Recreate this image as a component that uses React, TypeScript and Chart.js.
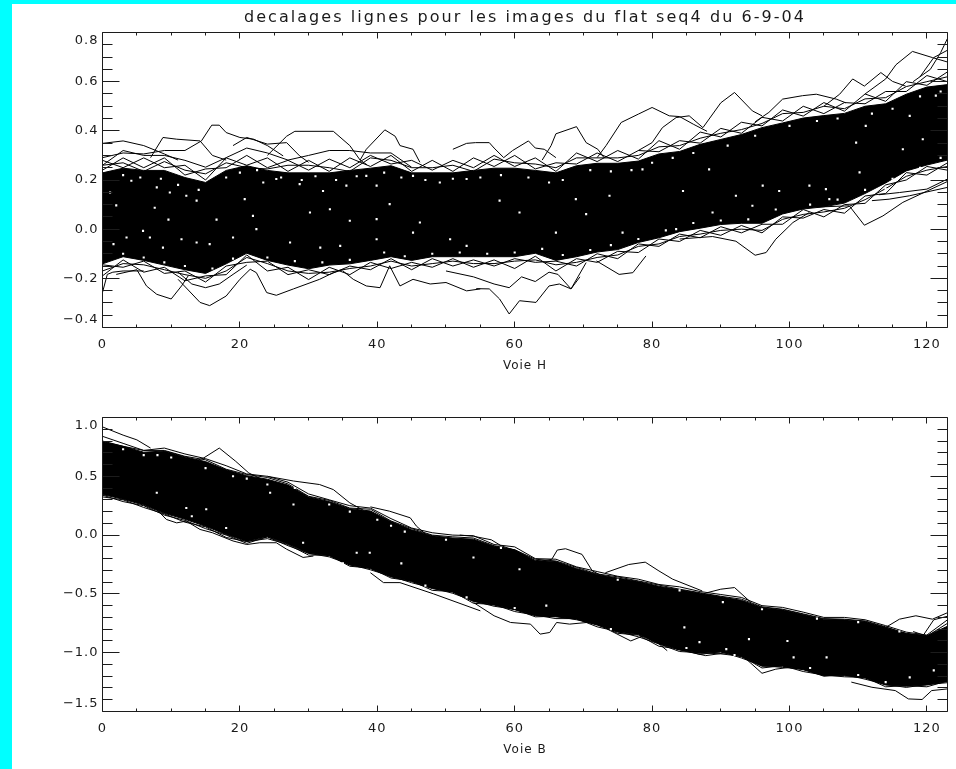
import React, { useEffect, useRef } from "react";
import { Chart, registerables } from "chart.js";

Chart.register(...registerables);

// ---- text
const titleText = "decalages lignes pour les images du flat seq4 du 6-9-04";
const xTitleTop = "Voie H";
const xTitleBottom = "Voie B";

// ---- axes
const xMajor = [0, 20, 40, 60, 80, 100, 120];
const xMinor = [5, 10, 15, 25, 30, 35, 45, 50, 55, 65, 70, 75, 85, 90, 95, 105, 110, 115];
const topYMajor = [-0.4, -0.2, 0, 0.2, 0.4, 0.6, 0.8];
const topYMinor = [-0.35, -0.3, -0.25, -0.15, -0.1, -0.05, 0.05, 0.1, 0.15, 0.25, 0.3, 0.35, 0.45, 0.5, 0.55, 0.65, 0.7, 0.75];
const botYMajor = [-1.5, -1, -0.5, 0, 0.5, 1];
const botYMinor = [-1.4, -1.3, -1.2, -1.1, -0.9, -0.8, -0.7, -0.6, -0.4, -0.3, -0.2, -0.1, 0.1, 0.2, 0.3, 0.4, 0.6, 0.7, 0.8, 0.9];

// ---- shared sampling of the channels for the band edges
const channels = [0, 3, 6, 9, 12, 15, 18, 21, 24, 27, 30, 33, 36, 39, 42, 45, 48, 51, 54, 57, 60, 63, 66, 69, 72, 75, 78, 81, 84, 87, 90, 93, 96, 99, 102, 105, 108, 111, 114, 117, 120, 123];

// ---- top panel (Voie H)
const topCoreUpper = [.229, .248, .239, .239, .21, .19, .239, .258, .239, .229, .229, .229, .239, .248, .258, .229, .229, .229, .239, .248, .248, .239, .229, .258, .268, .268, .277, .306, .316, .345, .365, .385, .413, .432, .452, .462, .471, .5, .51, .549, .578, .588];
const topCoreLower = [-.141, -.112, -.127, -.146, -.165, -.18, -.141, -.098, -.127, -.146, -.161, -.146, -.141, -.127, -.112, -.127, -.112, -.112, -.112, -.112, -.112, -.098, -.127, -.112, -.093, -.083, -.054, -.035, -.01, .004, .019, .024, .024, .062, .082, .091, .106, .145, .188, .237, .261, .281];
const topEdgeA = [.28, .25, .29, .25, .26, .20, .29, .26, .29, .235, .28, .235, .29, .255, .30, .235, .28, .235, .29, .255, .30, .245, .27, .265, .31, .275, .32, .315, .36, .35, .41, .39, .455, .44, .50, .47, .515, .51, .56, .56, .625, .60];
const topEdgeB = [.24, .29, .25, .29, .22, .245, .25, .30, .25, .28, .24, .285, .25, .30, .265, .28, .24, .28, .25, .30, .255, .29, .235, .31, .275, .32, .285, .36, .325, .395, .375, .435, .42, .485, .46, .515, .48, .55, .52, .60, .585, .64];
const topEdgeC = [.26, .27, .235, .275, .24, .225, .27, .25, .245, .26, .26, .25, .235, .29, .28, .25, .25, .26, .235, .285, .27, .265, .25, .29, .29, .29, .30, .335, .34, .37, .39, .405, .43, .47, .475, .50, .49, .53, .535, .58, .60, .62];
const topLowA = [-.19, -.125, -.175, -.155, -.21, -.19, -.185, -.105, -.17, -.155, -.205, -.155, -.185, -.135, -.16, -.135, -.155, -.12, -.155, -.125, -.16, -.11, -.17, -.12, -.135, -.09, -.095, -.04, -.05, -.005, -.025, .015, -.015, .05, .045, .08, .065, .135, .145, .23, .22, .27];
const topLowB = [-.145, -.155, -.13, -.18, -.17, -.215, -.15, -.135, -.13, -.185, -.165, -.185, -.15, -.165, -.12, -.165, -.12, -.15, -.125, -.15, -.12, -.135, -.13, -.15, -.10, -.12, -.06, -.07, -.02, -.035, .01, -.015, .02, .02, .08, .05, .10, .105, .18, .20, .255, .24];
const topLowC = [-.17, -.14, -.145, -.165, -.185, -.2, -.17, -.115, -.14, -.17, -.18, -.175, -.16, -.15, -.13, -.15, -.14, -.13, -.14, -.14, -.13, -.125, -.145, -.135, -.115, -.105, -.07, -.06, -.03, -.02, -.005, 0, -.005, .04, .06, .07, .085, .12, .165, .215, .24, .255];

const up1 = [[0, .349], [3, .359], [6, .34], [9, .306], [11, .281]];
const up2 = [[0, .291], [3, .31], [6, .306], [9, .32], [12, .32], [14.4, .359], [15.9, .423], [17, .423], [18, .393], [20, .373], [22, .366], [24, .34], [26.3, .298]];
const up3 = [[24, .3], [26.8, .378], [28, .398], [33.6, .398], [36, .34], [37.5, .281], [38.5, .262]];
const up4 = [[37.5, .281], [38.4, .325], [41.1, .404], [42.6, .378], [43.3, .34], [45.2, .325], [46.2, .272]];
const up5 = [[7, .291], [8.8, .373], [10.8, .366], [14.2, .359], [16, .30], [18, .281]];
const up6 = [[19, .34], [21, .373], [24, .346], [26.8, .352], [28.7, .298], [30, .272]];
const up7 = [[51, .325], [53, .349], [54.3, .352], [56.3, .352], [57, .33], [58.4, .291], [59.7, .32], [62, .359], [63, .33], [64.3, .325], [66, .291]];
const up8 = [[64, .281], [65.3, .34], [66, .388], [69, .417], [70.4, .352], [72.1, .325], [73, .291]];
const up9 = [[72, .291], [73.3, .34], [75.5, .434], [78, .468], [80, .495], [82.5, .461], [84, .458], [86, .427], [88, .398]];
const up10 = [[78, .32], [80, .352], [81.5, .413], [83.5, .454], [85.4, .461], [87.4, .413], [90, .514], [92, .556], [94.6, .481], [96, .461]];
const up11 = [[95, .437], [97, .475], [99, .529], [101.9, .543], [103.9, .549], [106.8, .529], [108.2, .514]];
const up12 = [[105, .50], [107.3, .549], [109.2, .611], [110.9, .582], [113.3, .637], [115, .601], [116.9, .582]];
const up13 = [[111, .55], [114, .611], [115.5, .669], [117.9, .723], [120.8, .698], [123, .68]];
const up14 = [[118, .60], [120.5, .65], [122, .718], [123, .776]];
const up15 = [[119, .62], [121, .698], [123, .728]];
const up16 = [[0, .26], [3, .32], [6, .30], [9, .30], [12, .28], [15, .252], [18, .291], [21, .33], [24, .31], [27, .281], [30, .30], [33, .32], [36, .32], [39, .31], [42, .31], [45, .252]];

const lo0 = [[0, -.257], [.7, -.184], [1.5, -.175], [3, -.17], [6, -.17]];
const lo1 = [[2, -.184], [5, -.165], [6.4, -.231], [7.9, -.265], [10, -.284], [11.5, -.231], [12.5, -.189]];
const lo2 = [[11, -.204], [14.2, -.298], [15.6, -.311], [18, -.272], [20, -.204], [21.5, -.163], [22.4, -.177], [23.9, -.258], [25.3, -.269], [27.8, -.243], [31.6, -.204], [33.6, -.177], [35, -.165]];
const lo3 = [[11, -.175], [13, -.223], [15, -.238], [17, -.223], [19, -.184], [21, -.146]];
const lo4 = [[35, -.17], [36.5, -.204], [38.4, -.231], [40.4, -.238], [41.8, -.149], [43.3, -.231], [45.2, -.204], [47.7, -.223], [50, -.217], [53, -.251], [55, -.243]];
const lo5 = [[54.4, -.242], [56.3, -.243], [57.8, -.284], [59.2, -.345], [60.7, -.291], [63.1, -.298], [65, -.231], [66.5, -.223], [68.2, -.243], [70.4, -.136]];
const lo6 = [[50, -.17], [54, -.194], [57, -.223], [59.2, -.238], [61, -.194], [63, -.213], [65, -.175], [66.3, -.184], [68.2, -.243], [69.5, -.194]];
const lo7 = [[71.9, -.129], [75.2, -.184], [77.2, -.177], [79.1, -.109]];
const lo8 = [[84, -.04], [88.8, -.03], [92.2, -.049], [95, -.106], [96.6, -.095], [98, -.041], [100.5, .027], [102.9, .068]];
const lo9 = [[104, .09], [108.7, .095], [110.9, .016], [113.6, .054], [116.5, .109], [123, .194]];
const lo10 = [[112, .116], [114.5, .122], [117.5, .136], [123, .17]];
const lo11 = [[113, .14], [116, .149], [120, .163], [123, .204]];

const topGaps = [[2, .097], [7.6, .087], [9.6, .039], [13.7, .116], [16.6, .039], [20.7, .122], [21.9, .054], [30.2, .068], [32.1, .155], [33.1, .081], [36, .034], [39.9, .041], [41.8, .102], [46.2, .027],
  [1.1, .149], [4.2, .197], [7.9, .17], [9.8, .149], [12.2, .136], [23.4, .19], [25.3, .204], [28.7, .183], [35.5, .177], [38.4, .217], [39.9, .177], [45.2, .217], [49.1, .19], [53, .204],
  [1.6, -.061], [3.5, -.034], [5.9, -.007], [6.9, -.034], [8.8, -.075], [11.5, -.041], [13.7, -.054], [15.6, -.061], [19, -.034], [22.4, 0], [27.3, -.054], [31.7, -.075], [34.6, -.068], [39.9, -.041], [45.2, -.014], [50.6, -.041], [53, -.068],
  [57.8, .116], [60.7, .068], [68.9, .122], [70.4, .061], [73.8, .136], [78.6, .243], [84.5, .155], [88.3, .243], [94.6, .095], [96.1, .177], [98.5, .155], [102.9, .177], [105.8, .122], [109.7, .352], [111.1, .42], [116.5, .325], [119.4, .366], [121.3, .543], [117.5, .461],
  [66, -.014], [75.7, -.014], [83.5, 0], [88.8, .068], [92.2, .136], [105.3, .163], [110.2, .231], [114, .163]];
const topGapsUpper = [[3, .22], [5.5, .21], [8.5, .205], [11, .18], [14, .16], [18, .21], [20, .23], [22.5, .24], [26, .21], [29, .20], [31, .215], [34, .2], [37, .215], [41, .23], [43.5, .21], [47, .2], [51, .205], [55, .21], [58, .22], [62, .21], [65, .19], [67, .2], [71, .24], [74, .235], [77, .24], [80, .27], [83, .29], [86, .31], [91, .34], [95, .38], [100, .42], [104, .44], [107, .45], [112, .47], [115, .49], [119, .54], [122, .56]];
const topGapsLower = [[3, -.10], [6, -.115], [9, -.135], [12, -.15], [16, -.16], [19, -.12], [24, -.115], [28, -.13], [32, -.135], [36, -.125], [41, -.095], [44, -.11], [48, -.1], [52, -.095], [56, -.1], [60, -.095], [64, -.08], [67, -.105], [71, -.085], [74, -.065], [78, -.04], [82, -.005], [86, .025], [90, .035], [94, .04], [98, .08], [103, .10], [107, .12], [111, .16], [115, .205], [119, .25], [122, .29]];

// ---- bottom panel (Voie B)
const botCoreUpper = [.795, .755, .705, .715, .665, .625, .555, .505, .475, .425, .325, .285, .225, .205, .115, .045, -.005, -.025, -.035, -.095, -.125, -.215, -.225, -.285, -.335, -.365, -.395, -.435, -.465, -.495, -.525, -.555, -.615, -.635, -.675, -.715, -.72, -.735, -.785, -.835, -.855, -.775];
const botCoreLower = [.345, .305, .255, .185, .135, .075, .005, -.055, -.015, -.075, -.155, -.175, -.255, -.285, -.355, -.395, -.455, -.485, -.565, -.595, -.635, -.685, -.695, -.715, -.765, -.825, -.845, -.925, -.975, -1.005, -.995, -1.035, -1.115, -1.115, -1.145, -1.195, -1.195, -1.215, -1.275, -1.285, -1.275, -1.245];
const botUpA = [.84, .78, .72, .74, .69, .65, .59, .52, .50, .45, .35, .30, .25, .23, .14, .06, .02, 0, -.005, -.08, -.10, -.20, -.205, -.27, -.31, -.35, -.375, -.42, -.44, -.48, -.505, -.53, -.60, -.615, -.655, -.70, -.70, -.72, -.77, -.825, -.85, -.72];
const botUpB = [.80, .755, .72, .72, .67, .64, .56, .515, .49, .435, .33, .295, .23, .22, .12, .055, 0, -.015, -.025, -.09, -.125, -.205, -.22, -.275, -.33, -.355, -.39, -.425, -.46, -.49, -.52, -.545, -.61, -.63, -.67, -.71, -.715, -.73, -.78, -.84, -.86, -.75];
const botLowA = [.325, .30, .235, .18, .11, .07, -.02, -.055, -.03, -.08, -.17, -.17, -.265, -.28, -.365, -.39, -.47, -.48, -.58, -.59, -.65, -.68, -.71, -.71, -.78, -.82, -.865, -.925, -.99, -1.0, -1.01, -1.03, -1.13, -1.11, -1.16, -1.19, -1.205, -1.21, -1.29, -1.28, -1.29, -1.24];
const botLowB = [.34, .285, .25, .17, .125, .055, 0, -.07, -.015, -.09, -.155, -.185, -.25, -.295, -.35, -.405, -.45, -.495, -.56, -.605, -.63, -.695, -.69, -.72, -.76, -.835, -.85, -.945, -.97, -1.015, -.99, -1.045, -1.11, -1.125, -1.14, -1.2, -1.185, -1.225, -1.27, -1.295, -1.27, -1.255];

const bu1 = [[0, .92], [3, .85], [5, .81], [7, .74]];
const bu2 = [[13, .62], [14.7, .655], [17, .74], [19.4, .627], [21.3, .528], [23, .48]];
const bu3 = [[24, .50], [27.8, .46], [31.6, .43], [33.6, .387], [36, .274], [38, .21]];
const bu4 = [[39, .24], [41.8, .203], [44.8, .147], [45.7, .076], [47, .01]];
const bu5 = [[52, 0], [54, -.01], [56.6, -.04], [58, -.09], [60, -.13]];
const bu6 = [[64, -.22], [65.4, -.206], [66.2, -.127], [67.4, -.116], [69.8, -.164], [71.3, -.305], [72.5, -.34]];
const bu7 = [[73.2, -.32], [76.6, -.25], [79, -.23], [81, -.305], [83, -.375], [87.3, -.475]];
const bu8 = [[88, -.49], [90, -.46], [92, -.446], [94.4, -.573]];
const bu9 = [[113, -.78], [114, -.785], [116, -.715], [118.4, -.686], [120.8, -.715], [123, -.66]];
const bu10 = [[118, -.82], [119.5, -.85], [121, -.72], [123, -.69]];
const bl1 = [[6, .27], [7.9, .217], [9.3, .133], [10.8, .104], [12.2, .119], [14.2, .048], [16, .02], [19, -.05], [21, -.08], [22.9, -.065], [25.3, -.065], [26.8, -.12], [29.2, -.19], [30.7, -.178]];
const bl2 = [[39, -.32], [40.9, -.404], [43.3, -.404], [48.2, -.50], [55, -.644]];
const bl3 = [[54, -.573], [57, -.686], [59.4, -.743], [62.3, -.757], [63.7, -.842], [65.1, -.828], [66.1, -.743], [68, -.757], [70.5, -.743]];
const bl4 = [[73.5, -.80], [76.9, -.90], [79.3, -.842], [82.2, -.983]];
const bl5 = [[83.5, -.97], [87.8, -1.025], [91.2, -.997]];
const bl6 = [[93.7, -1.054], [96, -1.175], [98, -1.14], [100, -1.124]];
const bl7 = [[109, -1.25], [112, -1.294], [115.4, -1.322], [117.3, -1.393], [119.3, -1.398], [120.7, -1.322], [123, -1.308]];
const botGaps = [[6, .68], [10, .66], [15, .57], [19, .5], [24, .43], [33, .26], [40, .13], [44, .03], [13, .16], [18, .06],
  [24.4, .36], [27.8, .26], [29.2, -.065], [37, -.15], [38.9, -.15], [43.5, -.24], [54, -.19], [7.9, .36], [15.1, .22], [12.2, .23],
  [60.7, -.29], [64.6, -.6], [84.7, -.785], [94.1, -.885], [99.7, -.9], [100.6, -1.04], [105.4, -1.04], [121, -1.15], [117.5, -1.21], [90.8, -.97], [90.3, -.57], [86.9, -.91],
  [3, .73], [8, .68], [21, .48], [28, .40], [36, .20], [42, .08], [50, -.04], [58, -.11], [75, -.38], [84, -.47], [96, -.63], [104, -.71], [110, -.74], [116, -.82],
  [35, -.24], [47, -.43], [53, -.53], [60, -.62], [74, -.80], [85, -.96], [92, -1.02], [103, -1.13], [110, -1.19], [114, -1.25]];

const INK = "#000000";
const TEXT = "#1a1a1a";
const FONT = '"DejaVu Sans", sans-serif';

const onGrid = (vals: number[]) => vals.map((y, i) => ({ x: channels[i], y }));
const fromPairs = (pairs: number[][]) => pairs.map(([x, y]) => ({ x, y }));
const line = (data: { x: number; y: number }[]) => ({ data, borderColor: INK, borderWidth: 1, pointRadius: 0, tension: 0, fill: false });

function datasetsFor(gaps: number[][], coreUp: number[], coreLow: number[], gridLines: number[][], pairLines: number[][][]) {
  return [
    { data: fromPairs(gaps), showLine: false, pointStyle: "rect", pointRadius: 1.5, pointBackgroundColor: "#ffffff", pointBorderWidth: 0, borderWidth: 0 },
    ...pairLines.map((p) => line(fromPairs(p))),
    ...gridLines.map((g) => line(onGrid(g))),
    { ...line(onGrid(coreUp)), fill: "+1", backgroundColor: INK },
    line(onGrid(coreLow)),
  ];
}

const setSpacing = {
  id: "setSpacing",
  beforeDraw(chart: any) {
    chart.ctx.letterSpacing = "1px";
    const block = chart.titleBlock;
    if (block && !block.__spaced) {
      const draw = block.draw.bind(block);
      block.draw = () => {
        chart.ctx.letterSpacing = "2.05px";
        draw();
        chart.ctx.letterSpacing = "1px";
      };
      block.__spaced = true;
    }
  },
};

const axisMarks = {
  id: "axisMarks",
  afterDatasetsDraw(chart: any, _a: any, opts: any) {
    const { ctx, chartArea: c, scales } = chart;
    const crisp = (v: number) => Math.round(v - 0.5) + 0.5;
    ctx.save();
    ctx.strokeStyle = "#1c1c1c";
    ctx.lineWidth = 1;
    ctx.beginPath();
    const vert = (vals: number[], len: number) =>
      vals.forEach((v) => {
        const p = crisp(scales.x.getPixelForValue(v));
        ctx.moveTo(p, c.bottom);
        ctx.lineTo(p, c.bottom - len);
        ctx.moveTo(p, c.top);
        ctx.lineTo(p, c.top + len);
      });
    const horiz = (vals: number[], len: number) =>
      vals.forEach((v) => {
        const p = crisp(scales.y.getPixelForValue(v));
        ctx.moveTo(c.left, p);
        ctx.lineTo(c.left + len, p);
        ctx.moveTo(c.right, p);
        ctx.lineTo(c.right - len, p);
      });
    vert(xMajor, 6);
    vert(xMinor, 3);
    horiz(opts.major, 17);
    horiz(opts.minor, 10);
    ctx.rect(c.left, c.top, c.right - c.left, c.bottom - c.top);
    ctx.stroke();
    ctx.restore();
  },
};

function makeChart(
  canvas: HTMLCanvasElement,
  cfg: {
    datasets: any[];
    yMin: number;
    yMax: number;
    yMajor: number[];
    yMinor: number[];
    decimals: number;
    xTitle: string;
    xHeight: number;
    tickPad: number;
    titlePadBottom: number;
    top: number;
    title?: string;
  }
) {
  const { yMin, yMax, yMajor, decimals } = cfg;
  const label = (v: number) => {
    const s = Math.abs(v).toFixed(decimals);
    const t = v < 0 ? "\u2212" + s : s;
    if (v === yMax) return ["", t];
    if (v === yMin) return [t, ""];
    return t;
  };
  return new Chart(canvas, {
    type: "line",
    data: { datasets: cfg.datasets },
    plugins: [setSpacing, axisMarks],
    options: {
      animation: false,
      responsive: false,
      maintainAspectRatio: false,
      devicePixelRatio: 1,
      layout: { padding: { left: 0, right: 8.5, top: cfg.top, bottom: 0 } },
      events: [],
      plugins: {
        legend: { display: false },
        tooltip: { enabled: false },
        title: cfg.title
          ? {
              display: true,
              text: cfg.title,
              fullSize: false,
              color: TEXT,
              font: { family: FONT, size: 16, weight: "normal" },
              padding: { top: 8.4, bottom: 4.9 },
            }
          : { display: false },
        axisMarks: { major: cfg.yMajor, minor: cfg.yMinor },
      },
      scales: {
        x: {
          type: "linear",
          min: 0,
          max: 123,
          afterBuildTicks: (s: any) => {
            s.ticks = xMajor.map((value) => ({ value }));
          },
          afterFit: (s: any) => {
            s.height = cfg.xHeight;
          },
          border: { display: false },
          grid: { display: false, drawTicks: false },
          ticks: { color: TEXT, font: { family: FONT, size: 13 }, padding: cfg.tickPad, maxRotation: 0, autoSkip: false },
          title: { display: true, text: cfg.xTitle, color: TEXT, font: { family: FONT, size: 12 }, padding: { top: 0, bottom: cfg.titlePadBottom } },
        },
        y: {
          min: yMin,
          max: yMax,
          afterBuildTicks: (s: any) => {
            s.ticks = yMajor.map((value) => ({ value }));
          },
          afterFit: (s: any) => {
            s.width = 102.5;
          },
          border: { display: false },
          grid: { display: false, drawTicks: false },
          ticks: { color: TEXT, font: { family: FONT, size: 13 }, padding: 4, autoSkip: false, callback: (v: any) => label(Number(v)) },
        },
      },
    } as any,
  });
}

export default function App() {
  const topRef = useRef<HTMLCanvasElement>(null);
  const botRef = useRef<HTMLCanvasElement>(null);

  useEffect(() => {
    const top = makeChart(topRef.current!, {
      datasets: datasetsFor(
        [...topGaps, ...topGapsUpper, ...topGapsLower],
        topCoreUpper,
        topCoreLower,
        [topEdgeA, topEdgeB, topEdgeC, topLowA, topLowB, topLowC],
        [up1, up2, up3, up4, up5, up6, up7, up8, up9, up10, up11, up12, up13, up14, up15, up16, lo0, lo1, lo2, lo3, lo4, lo5, lo6, lo7, lo8, lo9, lo10, lo11]
      ),
      yMin: -0.4,
      yMax: 0.8,
      yMajor: topYMajor,
      yMinor: topYMinor,
      decimals: 1,
      xTitle: xTitleTop,
      xHeight: 61.5,
      tickPad: 9,
      titlePadBottom: 16,
      top: 0,
      title: titleText,
    });
    const bot = makeChart(botRef.current!, {
      datasets: datasetsFor(
        botGaps,
        botCoreUpper,
        botCoreLower,
        [botUpA, botUpB, botLowA, botLowB],
        [bu1, bu2, bu3, bu4, bu5, bu6, bu7, bu8, bu9, bu10, bl1, bl2, bl3, bl4, bl5, bl6, bl7]
      ),
      yMin: -1.5,
      yMax: 1,
      yMajor: botYMajor,
      yMinor: botYMinor,
      decimals: 1,
      xTitle: xTitleBottom,
      xHeight: 57.5,
      tickPad: 9,
      titlePadBottom: 12,
      top: 28.5,
    });
    return () => {
      top.destroy();
      bot.destroy();
    };
  }, []);

  return (
    <div style={{ position: "absolute", left: 0, top: 0, width: 956, height: 769, background: "#00ffff", overflow: "hidden" }}>
      <div style={{ position: "absolute", left: 12, top: 4, right: 0, bottom: 0, background: "#ffffff" }} />
      <canvas ref={topRef} width={956} height={389} style={{ position: "absolute", left: 0, top: 0, display: "block" }} />
      <canvas ref={botRef} width={956} height={380} style={{ position: "absolute", left: 0, top: 389, display: "block" }} />
    </div>
  );
}
